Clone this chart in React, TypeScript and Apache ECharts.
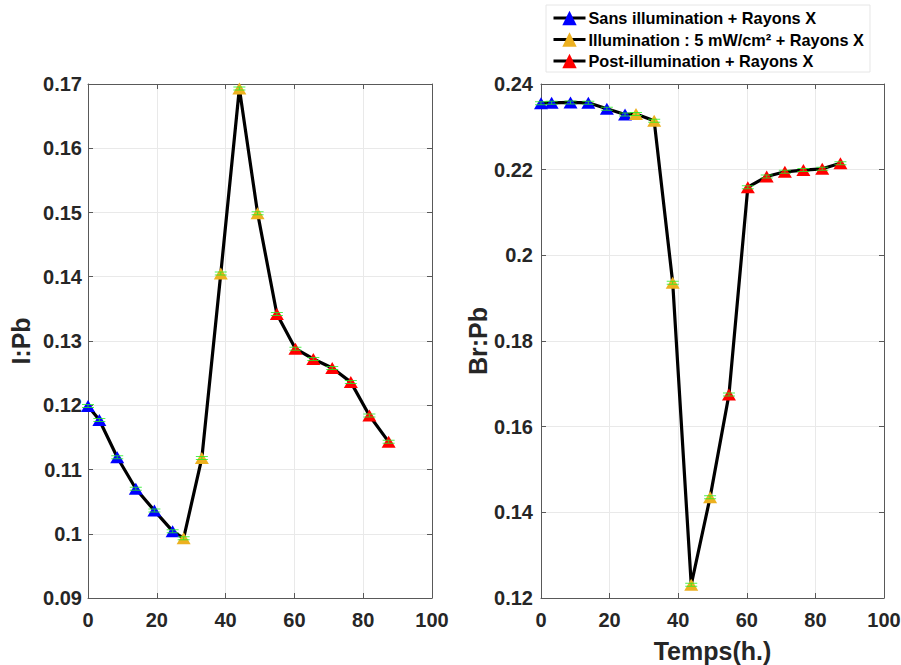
import React, { useEffect, useRef } from "react";
import * as echarts from "echarts";

// Time (h) for each measurement, I:Pb panel
const timeI = [0, 3.3, 8.5, 13.9, 19.3, 24.6, 27.8, 33.1, 38.6, 44.0, 49.3, 54.9, 60.3, 65.5, 71.0, 76.4, 81.8, 87.4];
const ratioI = [0.1199, 0.1177, 0.1119, 0.107, 0.1036, 0.1004, 0.0993, 0.1118, 0.1405, 0.1693, 0.1499, 0.1342, 0.1288, 0.1272, 0.1258, 0.1236, 0.1184, 0.1143];

// Time (h) for each measurement, Br:Pb panel
const timeBr = [0, 3.1, 8.6, 13.8, 19.2, 24.5, 27.7, 33.0, 38.4, 43.8, 49.3, 54.8, 60.3, 65.8, 71.1, 76.5, 82.0, 87.3];
const ratioBr = [0.2355, 0.2356, 0.2357, 0.2356, 0.2342, 0.2329, 0.233, 0.2314, 0.1936, 0.1231, 0.1435, 0.1675, 0.2159, 0.2184, 0.2195, 0.2199, 0.2202, 0.2215];

// Number of consecutive points in each phase
const phaseLengths = [6, 5, 7];
const phaseNames = [
  "Sans illumination + Rayons X",
  "Illumination : 5 mW/cm² + Rayons X",
  "Post-illumination + Rayons X",
];
const phaseColors = ["#0000FF", "#EDB120", "#FF0000"];

// Axis ranges
const xRange = { min: 0, max: 100, interval: 20 };
const yRangeI = { min: 0.09, max: 0.17, interval: 0.01 };
const yRangeBr = { min: 0.12, max: 0.24, interval: 0.02 };

const FONT = "'Liberation Sans', Arial, Helvetica, sans-serif";
const TXT = "#262626";
const AX = "#595959";

export default function App() {
  const ref = useRef<HTMLDivElement>(null);

  useEffect(() => {
    if (!ref.current) return;
    const chart = echarts.init(ref.current, undefined, { renderer: "svg" });

    const labelStyle = { color: TXT, fontFamily: FONT, fontWeight: "bold", fontSize: 20 };

    const mkX = (grid: number, top: boolean, name?: string) => ({
      type: "value",
      gridIndex: grid,
      position: top ? "top" : "bottom",
      ...xRange,
      name: name || "",
      nameLocation: "middle",
      nameGap: 40,
      nameTextStyle: { color: TXT, fontFamily: FONT, fontWeight: "bold", fontSize: 25 },
      axisLine: { show: true, onZero: false, lineStyle: { color: AX, width: 1 } },
      axisTick: { show: true, inside: true, length: 5, lineStyle: { color: AX } },
      axisLabel: { show: !top, margin: 12, ...labelStyle },
      splitLine: { show: !top, lineStyle: { color: "#e9e9e9", width: 1 } },
    });
    const mkY = (grid: number, right: boolean, range: any, name?: string, gap?: number, margin?: number) => ({
      type: "value",
      gridIndex: grid,
      position: right ? "right" : "left",
      ...range,
      name: name || "",
      nameLocation: "middle",
      nameRotate: 90,
      nameGap: gap || 50,
      nameTextStyle: { color: TXT, fontFamily: FONT, fontWeight: "bold", fontSize: 25 },
      axisLine: { show: true, onZero: false, lineStyle: { color: AX, width: 1 } },
      axisTick: { show: true, inside: true, length: 5, lineStyle: { color: AX } },
      axisLabel: { show: !right, margin: margin || 7, ...labelStyle },
      splitLine: { show: !right, lineStyle: { color: "#e9e9e9", width: 1 } },
    });

    const panels = [
      { t: timeI, v: ratioI },
      { t: timeBr, v: ratioBr },
    ];

    const errSymbol = "path://M0,0h12v1h-12z M5.5,0h1v4h-1z M0,3h12v1h-12z";

    const series: any[] = [];
    panels.forEach((p, g) => {
      const pts = p.t.map((t, i) => [t, p.v[i]]);
      series.push({
        type: "line",
        xAxisIndex: 2 * g,
        yAxisIndex: 2 * g,
        data: pts,
        symbol: "none",
        lineStyle: { color: "#000", width: 3.2 },
        z: 2,
        silent: true,
      });
      let start = 0;
      phaseLengths.forEach((len, k) => {
        series.push({
          type: "line",
          name: phaseNames[k],
          xAxisIndex: 2 * g,
          yAxisIndex: 2 * g,
          data: pts.slice(start, start + len),
          symbol: "triangle",
          symbolSize: [14, 12],
          showAllSymbol: true,
          itemStyle: { color: phaseColors[k] },
          lineStyle: { color: "#000", width: 0 },
          z: 3,
        });
        start += len;
      });
      series.push({
        type: "scatter",
        xAxisIndex: 2 * g,
        yAxisIndex: 2 * g,
        data: pts,
        symbol: errSymbol,
        symbolSize: [12, 4],
        itemStyle: { color: "#22ee22" },
        z: 4,
        silent: true,
      });
    });

    chart.setOption({
      animation: false,
      backgroundColor: "#fff",
      grid: [
        { left: 88, top: 84, width: 344, height: 514, outerBoundsMode: "none", containLabel: false },
        { left: 541, top: 84, width: 343, height: 514, outerBoundsMode: "none", containLabel: false },
      ],
      xAxis: [mkX(0, false), mkX(0, true), mkX(1, false, "Temps(h.)"), mkX(1, true)],
      yAxis: [
        mkY(0, false, yRangeI, "I:Pb", 55, 6),
        mkY(0, true, yRangeI),
        mkY(1, false, yRangeBr, "Br:Pb", 48, 8),
        mkY(1, true, yRangeBr),
      ],
      legend: {
        data: phaseNames,
        orient: "vertical",
        left: 546,
        top: 5,
        itemWidth: 32,
        itemHeight: 18,
        itemGap: 5.5,
        padding: [5, 6, 3, 6],
        backgroundColor: "#fff",
        borderColor: "#e6e6e6",
        borderWidth: 1,
        textStyle: { color: "#000", fontFamily: FONT, fontWeight: "bold", fontSize: 16.3, padding: [0, 0, 0, -2] },
        lineStyle: { color: "#000", width: 3, opacity: 1 },
        selectedMode: false,
      },
      series,
    });

    return () => chart.dispose();
  }, []);

  return (
    <div
      ref={ref}
      style={{ position: "fixed", left: 0, top: 0, width: 901, height: 665, background: "#fff" }}
    />
  );
}
